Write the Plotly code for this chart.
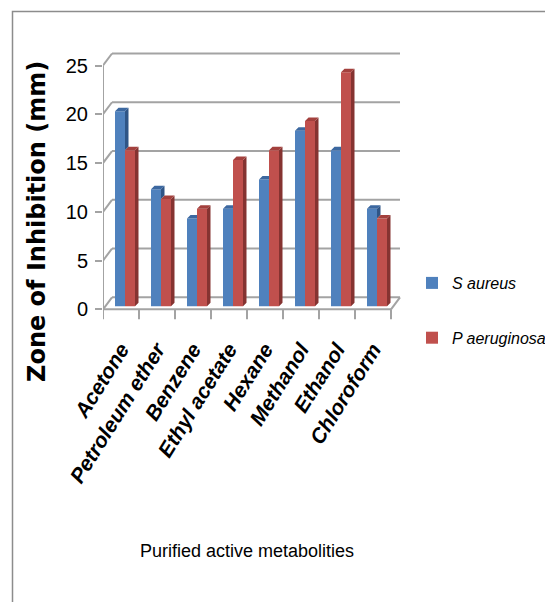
import plotly.graph_objects as go

categories = ["Acetone", "Petroleum ether", "Benzene", "Ethyl acetate",
              "Hexane", "Methanol", "Ethanol", "Chloroform"]
s_aureus = [20, 12, 9, 10, 13, 18, 16, 10]
p_aeruginosa = [16, 11, 10, 15, 16, 19, 24, 9]
y_ticks = [0, 5, 10, 15, 20, 25]

# ---- geometry (page pixels -> figure pixels -> data units) ----
OFF = 8                          # default body margin of the page
W, H = 553, 602
L, T, PW, PH = 103 - OFF, 46 - OFF, 310, 277
X0 = -0.5
KX = 36.0                       # px per category
Y0, Y1 = -1.4, 27.0
KY = PH / (Y1 - Y0)             # px per unit
X1 = X0 + PW / KX

def px2paper_x(px):
    return (px - OFF - L) / PW

def px2paper_y(py):
    return 1 - (py - OFF - T) / PH

dxb, dyb = 9 / KX, 12 / KY      # back wall offset
dxs, dys = 3.5 / KX, 3.5 / KY   # bar depth
base = 3 / KY
bw = 10 / KX
off_b = -6 / KX
off_r = off_b + bw

BLUE, BLUE_TOP, BLUE_SIDE = "#4F81BD", "#3C68A0", "#2F5586"
RED, RED_TOP, RED_SIDE = "#C0504D", "#A3403D", "#853331"
GRID = "#A3A3A3"

n = len(categories)
idx = list(range(n))

fig = go.Figure()

fig.add_trace(go.Bar(x=idx, y=s_aureus, base=base, width=bw, offset=off_b,
                     marker=dict(color=BLUE, line=dict(width=0)),
                     name="S aureus", legendgroup="a"))
fig.add_trace(go.Bar(x=idx, y=p_aeruginosa, base=base, width=bw, offset=off_r,
                     marker=dict(color=RED, line=dict(width=0)),
                     name="P aeruginosa", legendgroup="b"))

# blue caps / visible side parts
bcx, bcy, bsx, bsy = [], [], [], []
for i, (b, r) in enumerate(zip(s_aureus, p_aeruginosa)):
    l = i + off_b
    rr = l + bw
    t = b + base
    rt = r + base
    if b > r:
        bcx += [l, rr, rr + dxs, l + dxs, l, None]
        bcy += [t, t, t + dys, t + dys, t, None]
        bsx += [rr, rr, rr + dxs, rr + dxs, rr, None]
        bsy += [rt, t, t + dys, rt + dys, rt, None]
    else:
        bcx += [l, rr, rr, l + dxs, l, None]
        bcy += [t, t, t + dys, t + dys, t, None]

fig.add_trace(go.Scatter(x=bsx, y=bsy, fill="toself", mode="lines",
                         line=dict(width=0, color=BLUE_SIDE), fillcolor=BLUE_SIDE,
                         showlegend=False, hoverinfo="skip"))
fig.add_trace(go.Scatter(x=bcx, y=bcy, fill="toself", mode="lines",
                         line=dict(width=0, color=BLUE_TOP), fillcolor=BLUE_TOP,
                         showlegend=False, hoverinfo="skip"))

rsx, rsy, rcx, rcy = [], [], [], []
for i, r in enumerate(p_aeruginosa):
    l = i + off_r
    rr = l + bw
    t = r + base
    rsx += [rr, rr, rr + dxs, rr + dxs, rr, None]
    rsy += [base, t, t + dys, base + dys, base, None]
    rcx += [l, rr, rr + dxs, l + dxs, l, None]
    rcy += [t, t, t + dys, t + dys, t, None]

fig.add_trace(go.Scatter(x=rsx, y=rsy, fill="toself", mode="lines",
                         line=dict(width=0, color=RED_SIDE), fillcolor=RED_SIDE,
                         showlegend=False, hoverinfo="skip"))
fig.add_trace(go.Scatter(x=rcx, y=rcy, fill="toself", mode="lines",
                         line=dict(width=0, color=RED_TOP), fillcolor=RED_TOP,
                         showlegend=False, hoverinfo="skip"))

shapes = []
ln = dict(color=GRID, width=2)
xr_front = X0 + n
for v in y_ticks:
    shapes.append(dict(type="line", xref="x", yref="y", x0=X0, y0=v,
                       x1=X0 + dxb, y1=v + dyb, line=ln, layer="below"))
    shapes.append(dict(type="line", xref="x", yref="y", x0=X0 + dxb, y0=v + dyb,
                       x1=xr_front + dxb, y1=v + dyb, line=ln, layer="below"))
# front vertical axis
shapes.append(dict(type="line", xref="x", yref="y", x0=X0, y0=0, x1=X0, y1=max(y_ticks),
                   line=ln, layer="below"))
# floor front edge + right diagonal
shapes.append(dict(type="line", xref="x", yref="y", x0=X0, y0=0, x1=xr_front, y1=0,
                   line=ln, layer="below"))
shapes.append(dict(type="line", xref="x", yref="y", x0=xr_front, y0=0,
                   x1=xr_front + dxb, y1=dyb, line=ln, layer="below"))
# category tick marks
for k in range(n + 1):
    shapes.append(dict(type="line", xref="x", yref="y", x0=X0 + k, y0=0,
                       x1=X0 + k, y1=-10 / KY, line=ln, layer="below"))
# outer frame
shapes.append(dict(type="rect", xref="paper", yref="paper",
                   x0=px2paper_x(12.5), y0=px2paper_y(640), x1=px2paper_x(640),
                   y1=px2paper_y(11.5), line=dict(color="#8C8C8C", width=1.5),
                   fillcolor="rgba(0,0,0,0)", layer="below"))

SANS = "Liberation Sans, Arial, sans-serif"

annotations = [
    dict(text="Zone of Inhibition (mm)", xref="paper", yref="paper",
         x=px2paper_x(37), y=px2paper_y(222), textangle=-90, showarrow=False,
         xanchor="center", yanchor="middle",
         font=dict(family="DejaVu Sans", size=24, color="black", weight="bold")),
    dict(text="Purified active metabolities", xref="paper", yref="paper",
         x=px2paper_x(247), y=px2paper_y(551), showarrow=False,
         xanchor="center", yanchor="middle",
         font=dict(family=SANS, size=18, color="black")),
]

fig.update_layout(
    width=W, height=H, autosize=False,
    margin=dict(l=L, r=W - L - PW, t=T, b=H - T - PH, pad=0, autoexpand=False),
    paper_bgcolor="white", plot_bgcolor="white",
    barmode="overlay",
    shapes=shapes, annotations=annotations,
    showlegend=True,
    legend=dict(x=px2paper_x(412), y=px2paper_y(266), xanchor="left", yanchor="top",
                font=dict(family=SANS, size=16, color="black", style="italic"),
                tracegroupgap=31, bgcolor="rgba(0,0,0,0)"),
    xaxis=dict(range=[X0, X1], tickvals=idx, ticktext=categories, tickangle=-58,
               showgrid=False, zeroline=False, showline=False, ticks="",
               automargin=False, ticklabelstandoff=9,
               tickfont=dict(family=SANS, size=21, color="black",
                             weight="bold", style="italic")),
    yaxis=dict(range=[Y0, Y1], tickvals=y_ticks, showgrid=False, zeroline=False,
               showline=False, ticks="outside", ticklen=7, tickwidth=2,
               tickcolor=GRID, automargin=False, ticklabelstandoff=3,
               tickfont=dict(family=SANS, size=20, color="black")),
)

fig.write_html("out.html")
